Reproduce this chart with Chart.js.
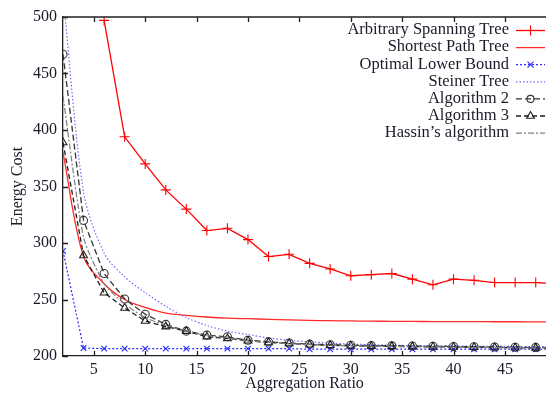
<!DOCTYPE html>
<html>
<head>
<meta charset="utf-8">
<script src="https://cdn.jsdelivr.net/npm/chart.js@4.4.1/dist/chart.umd.min.js"></script>
<style>
html,body{margin:0;padding:0;background:#fff;}
#wrap{width:546px;height:394px;position:relative;}
</style>
</head>
<body>
<div id="wrap"><canvas id="c" width="546" height="394"></canvas></div>
<script>
// ---- data ----
const ratios = [2,4,6,8,10,12,14,16,18,20,22,24,26,28,30,32,34,36,38,40,42,44,46,48,50];
const arbitrarySpanningTree = [null,null,497,394,370,347,330,311,313,303,288,290,282,277,271,272,273,268,263,268,267,265,265,265,264];
const shortestPathTree = [380,288,264,250,243,238,236,234.5,233.5,233,232.5,232,231.5,231.3,231,230.8,230.7,230.6,230.5,230.5,230.4,230.3,230.3,230.2,230.2];
const optimalLowerBound = [293,207,206.5,206.5,206.5,206.5,206.5,206.5,206.5,206.5,206.5,206.5,206,206,206,206,206,206,206,206,206,206,206,206,206];
const steinerTree = [520,345,291,270,256,244,234,227,222,219,216,214,212.5,211.5,210.5,210,209.5,209.2,209,208.8,208.6,208.5,208.4,208.3,208.2];
const algorithm2 = [467,320,273,250.5,237,228,222,218.5,217,214,212.5,211.5,210.5,210,209.5,209.2,209,208.8,208.6,208.4,208.2,208,207.8,207.6,207.5];
const algorithm3 = [389,289,256,242.5,231,226,222,217,215.5,213.5,212,211,210,209.5,209,208.7,208.5,208.3,208.1,207.9,207.7,207.5,207.3,207.2,207];
const hassin = [430,305,264,246,234,227,222,218,216,213.5,212,211,210,209.5,209,208.7,208.5,208.3,208.1,207.9,207.7,207.5,207.4,207.3,207.2];
const xTickValues = [5,10,15,20,25,30,35,40,45];
const yTickValues = [200,250,300,350,400,450,500];
const seriesLabels = ['Arbitrary Spanning Tree','Shortest Path Tree','Optimal Lower Bound','Steiner Tree','Algorithm 2','Algorithm 3',"Hassin\u2019s algorithm"];

const FONT = '"Liberation Serif", "Times New Roman", serif';
const TXT = '#1a1a2a';

function pts(arr){ return ratios.map((x,i)=>({x:x,y:arr[i]})); }

const styles = [
  {data:arbitrarySpanningTree, color:'#ff0000', width:1.3, dash:[], pstyle:'cross', pr:5, tension:0},
  {data:shortestPathTree, color:'#ff2a2a', width:1.3, dash:[], pstyle:false, pr:0, tension:0.35},
  {data:optimalLowerBound, color:'#2a2aff', width:1.2, dash:[2,2], pstyle:'crossRot', pr:4, tension:0},
  {data:steinerTree, color:'#6a6aff', width:1.2, dash:[1.5,2], pstyle:false, pr:0, tension:0.3},
  {data:algorithm2, color:'#333333', width:1.3, dash:[6,3], pstyle:'circle', pr:4, tension:0},
  {data:algorithm3, color:'#1e1e1e', width:1.3, dash:[5,3], pstyle:'triangle', pr:4.5, tension:0},
  {data:hassin, color:'#808080', width:1.2, dash:[6,2,2,2], pstyle:false, pr:0, tension:0.2}
];

const datasets = styles.map((s,i)=>({
  label: seriesLabels[i],
  data: pts(s.data),
  borderColor: s.color,
  backgroundColor: 'rgba(0,0,0,0)',
  borderWidth: s.width,
  borderDash: s.dash,
  pointStyle: s.pstyle,
  pointRadius: s.pr,
  pointBorderColor: s.color,
  pointBackgroundColor: 'rgba(0,0,0,0)',
  pointBorderWidth: 1.1,
  tension: s.tension,
  spanGaps: false,
  order: 7-i
}));

function drawMarker(ctx, style, x, y, r, color){
  ctx.save();
  ctx.strokeStyle = color; ctx.lineWidth = 1.1; ctx.setLineDash([]);
  ctx.beginPath();
  if(style==='cross'){ ctx.moveTo(x-r,y); ctx.lineTo(x+r,y); ctx.moveTo(x,y-r); ctx.lineTo(x,y+r); }
  else if(style==='crossRot'){ const d=r*0.75; ctx.moveTo(x-d,y-d); ctx.lineTo(x+d,y+d); ctx.moveTo(x-d,y+d); ctx.lineTo(x+d,y-d); }
  else if(style==='circle'){ ctx.arc(x,y,r,0,Math.PI*2); }
  else if(style==='triangle'){ ctx.moveTo(x,y-r); ctx.lineTo(x+r*0.87,y+r*0.5); ctx.lineTo(x-r*0.87,y+r*0.5); ctx.closePath(); }
  ctx.stroke();
  ctx.restore();
}

const framePlugin = {
  id:'frame',
  afterDraw(chart){
    const ctx = chart.ctx, a = chart.chartArea;
    const xs = chart.scales.x, ys = chart.scales.y;
    ctx.save();
    ctx.strokeStyle = '#222'; ctx.lineWidth = 1.3; ctx.setLineDash([]);
    ctx.beginPath();
    ctx.moveTo(a.left, a.top); ctx.lineTo(a.right, a.top);
    xTickValues.forEach(v=>{
      const px = Math.round(xs.getPixelForValue(v))+0.5;
      ctx.moveTo(px, a.bottom); ctx.lineTo(px, a.bottom-5);
      ctx.moveTo(px, a.top); ctx.lineTo(px, a.top+5);
    });
    yTickValues.forEach(v=>{
      const py = Math.round(ys.getPixelForValue(v))+0.5;
      ctx.moveTo(a.left, py); ctx.lineTo(a.left+5, py);
    });
    ctx.stroke();
    // legend
    ctx.font = '16.5px ' + FONT;
    ctx.textAlign = 'right'; ctx.textBaseline = 'middle';
    chart.data.datasets.forEach((ds,i)=>{
      const y = 30 + i*17.1;
      ctx.fillStyle = TXT;
      ctx.fillText(ds.label, 509, y);
      const s = styles[i];
      ctx.save();
      ctx.strokeStyle = s.color; ctx.lineWidth = s.width; ctx.setLineDash(s.dash);
      ctx.beginPath(); ctx.moveTo(516, y+0.5); ctx.lineTo(545, y+0.5); ctx.stroke();
      ctx.restore();
      if(s.pstyle) drawMarker(ctx, s.pstyle, 530.5, y+0.5, s.pstyle==='circle'?3.5:s.pr, s.color);
    });
    ctx.restore();
  }
};

new Chart(document.getElementById('c'), {
  type:'line',
  data:{datasets:datasets},
  plugins:[framePlugin],
  options:{
    responsive:false,
    animation:false,
    devicePixelRatio:1,
    layout:{autoPadding:false, padding:{top:17,right:0,left:0,bottom:0}},
    plugins:{legend:{display:false}, tooltip:{enabled:false}},
    scales:{
      x:{
        type:'linear', min:2, max:49,
        afterBuildTicks:(s)=>{ s.ticks = xTickValues.map(v=>({value:v})); },
        afterFit:(s)=>{ s.height = 38; s.paddingRight = 0; s.paddingLeft = 0; },
        grid:{display:false, drawTicks:false},
        border:{display:true, color:'#222', width:1.3},
        ticks:{padding:4, color:TXT, font:{family:FONT, size:16}, maxRotation:0, autoSkip:false},
        title:{display:true, text:'Aggregation Ratio', color:TXT, font:{family:FONT, size:16}, padding:{top:0,bottom:1}}
      },
      y:{
        type:'linear', min:200, max:500,
        afterBuildTicks:(s)=>{ s.ticks = yTickValues.map(v=>({value:v})); },
        afterFit:(s)=>{ s.width = 63; },
        grid:{display:false, drawTicks:false},
        border:{display:true, color:'#222', width:1.3},
        ticks:{padding:6, color:TXT, font:{family:FONT, size:16}},
        title:{display:true, text:'Energy Cost', color:TXT, font:{family:FONT, size:16}, padding:{top:8,bottom:0}}
      }
    }
  }
});
</script>
</body>
</html>
